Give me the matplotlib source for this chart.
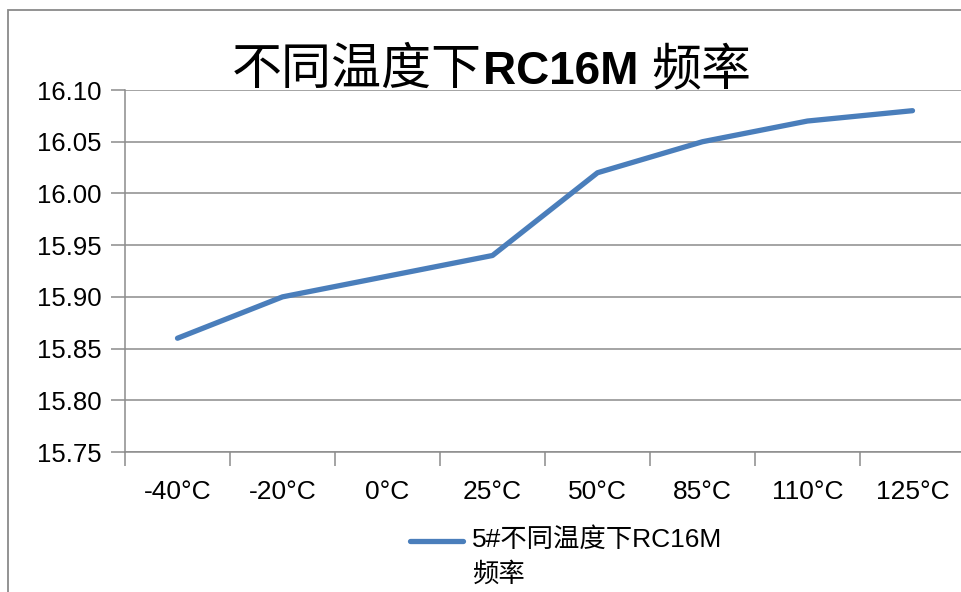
import matplotlib
matplotlib.use("Agg")
import matplotlib.pyplot as plt
from matplotlib.patches import Rectangle

categories = ["-40°C", "-20°C", "0°C", "25°C", "50°C", "85°C", "110°C", "125°C"]
freq_mhz = [15.86, 15.90, 15.92, 15.94, 16.02, 16.05, 16.07, 16.08]
y_ticks = [15.75, 15.80, 15.85, 15.90, 15.95, 16.00, 16.05, 16.10]
series_name = "5#不同温度下RC16M\n频率"

LINE_BLUE = "#4A7EBB"
GRID_GRAY = "#8C8C8C"
FONTS = ["Liberation Sans", "Noto Sans CJK SC", "DejaVu Sans"]
CJK = ["Noto Sans CJK SC", "DejaVu Sans"]
plt.rcParams["font.family"] = FONTS

W, H = 962, 592
fig = plt.figure(figsize=(W / 100, H / 100), dpi=100)

# chart frame (runs off the right and bottom edges)
fig.patches.append(Rectangle((8 / W, -0.1), 1.2, 1 - 10 / H + 0.1,
                             transform=fig.transFigure, fill=False,
                             edgecolor="#8A8A8A", linewidth=1.3, zorder=0))

ax = fig.add_axes([125 / W, 1 - 452 / H, 840 / W, 362 / H])
x = list(range(len(categories)))
ax.plot(x, freq_mhz, color=LINE_BLUE, linewidth=3.8,
        solid_capstyle="round", solid_joinstyle="round", zorder=3)

ax.set_xlim(-0.5, len(categories) - 0.5)
ax.set_ylim(y_ticks[0], y_ticks[-1])
ax.set_yticks(y_ticks)
ax.set_yticklabels([f"{v:.2f}" for v in y_ticks])
ax.set_xticks(x)
ax.set_xticklabels(categories)
ax.set_xticks([i - 0.5 for i in range(len(categories) + 1)], minor=True)

ax.grid(axis="y", color=GRID_GRAY, linewidth=1.1)
ax.set_axisbelow(True)
for side in ("top", "right"):
    ax.spines[side].set_visible(False)
for side in ("left", "bottom"):
    ax.spines[side].set_color(GRID_GRAY)
    ax.spines[side].set_linewidth(1.1)

ax.tick_params(axis="y", length=10, width=1.1, color=GRID_GRAY,
               labelsize=18.5, pad=7)
ax.tick_params(axis="x", which="major", length=0, labelsize=19, pad=20)
ax.tick_params(axis="x", which="minor", length=10, width=1.1, color=GRID_GRAY)

# title: CJK in regular weight, the part name in bold
BASE_Y = 1 - 84 / H
t1 = fig.text(232 / W, BASE_Y, "不同温度下", fontsize=36,
              family=CJK, va="baseline")
t2 = fig.text(0, BASE_Y, "RC16M ", fontsize=33, fontweight="bold",
              family=FONTS, va="baseline")
fig.canvas.draw()
r = fig.canvas.get_renderer()
bb1 = t1.get_window_extent(r)
t2.set_position(((bb1.x1 + 1) / W, BASE_Y))
fig.canvas.draw()
bb2 = t2.get_window_extent(r)
fig.text(bb2.x1 / W, BASE_Y, "频率", fontsize=36, family=CJK, va="baseline")

# legend entry below the axis
fig.add_artist(plt.Line2D([410 / W, 463 / W], [1 - 541 / H, 1 - 541 / H],
                          color=LINE_BLUE, linewidth=3.8,
                          solid_capstyle="round"))
fig.text(472 / W, 1 - 527 / H, series_name, fontsize=19, va="top",
         linespacing=1.55, family=FONTS)

fig.savefig("out.png", dpi=100)
